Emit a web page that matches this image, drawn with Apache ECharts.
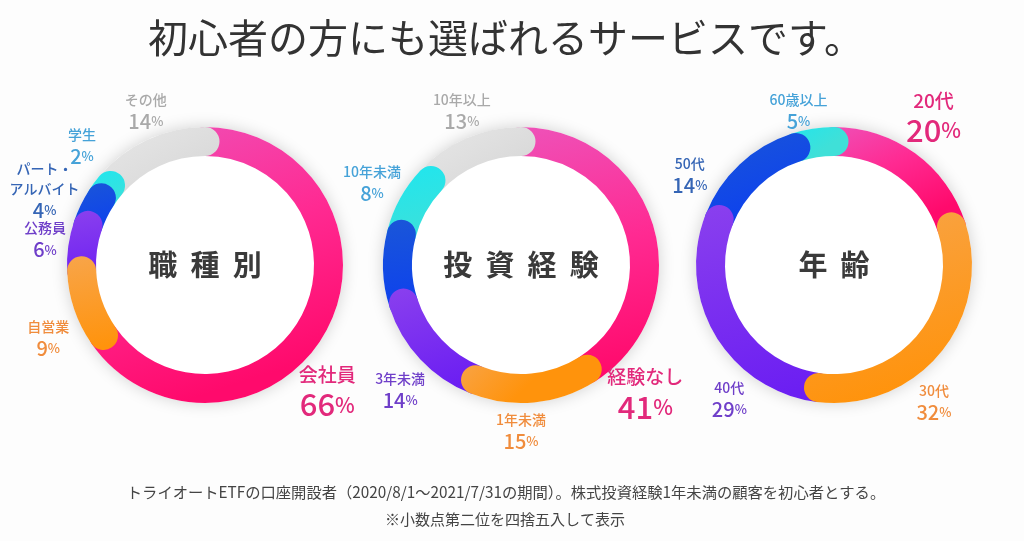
<!DOCTYPE html>
<html><head><meta charset="utf-8">
<script src="https://cdn.jsdelivr.net/npm/echarts@6/dist/echarts.min.js"></script>
<style>html,body{margin:0;padding:0;background:#fdfdfd}#c{width:1024px;height:541px}</style>
</head><body><div id="c"></div>
<script>
// ---- data ----
const pageTitle = '初心者の方にも選ばれるサービスです。';
const footnote1 = 'トライオートETFの口座開設者（2020/8/1～2021/7/31の期間）。株式投資経験1年未満の顧客を初心者とする。';
const footnote2 = '※小数点第二位を四捨五入して表示';
const chartTitles = ['職種別', '投資経験', '年齢'];
const jobNames = ['会社員', '自営業', '公務員', 'パート・\nアルバイト', '学生', 'その他'];
const jobValues = [66, 9, 6, 4, 2, 14];
const expNames = ['経験なし', '1年未満', '3年未満', '5年未満', '10年未満', '10年以上'];
const expValues = [41, 15, 14, 9, 8, 13];
const ageNames = ['20代', '30代', '40代', '50代', '60歳以上'];
const ageValues = [20, 32, 29, 14, 5];
const unlabeled = ['5年未満'];

// ---- style / layout ----
const FONT = '"Noto Sans CJK JP", "Noto Sans", sans-serif';
const G = (a, b) => new echarts.graphic.LinearGradient(0, 0, 0.35, 1, [{offset: 0, color: a}, {offset: 1, color: b}]);
const segColors = [
  () => new echarts.graphic.LinearGradient(0, 0, 0.35, 1, [{offset: 0, color: '#ee52b9'}, {offset: 0.5, color: '#ff2a92'}, {offset: 1, color: '#ff0a6c'}]),
  () => G('#f8a54a', '#ff930c'),
  () => G('#8a40ee', '#6c1ff2'),
  () => G('#1a56d8', '#0c3ff0'),
  () => G('#1fe6ef', '#3fe0d8'),
  () => G('#e8e8e8', '#dadada')
];
const labelColors = ['#e2297b', '#f08c3c', '#6f3fc9', '#3565b5', '#45a2d8', '#a9a9a9'];
const R0 = 109, R1 = 138;
// label placement (angle in degrees clockwise from 12 o'clock, radius in px); default: mid-angle at 170px
const donuts = [
  {names: jobNames, values: jobValues, title: chartTitles[0], center: [205, 265],
   labelPlace: {0: {a: 136, r: 176}, 1: {a: 245, r: 173}, 2: {a: 279, r: 162}, 3: {a: 295, r: 177}, 4: {a: 314, r: 171}, 5: {a: 339, r: 165}}},
  {names: expNames, values: expValues, title: chartTitles[1], center: [521, 265],
   labelPlace: {0: {a: 136, r: 179}, 1: {a: 180, r: 166}, 2: {a: 224, r: 174}, 5: {a: 339, r: 165}}},
  {names: ageNames, values: ageValues, title: chartTitles[2], center: [834, 265],
   labelPlace: {0: {a: 34, r: 178}, 1: {a: 144, r: 170}, 2: {a: 218, r: 170}, 3: {a: 302, r: 170}, 4: {a: 347, r: 158}}}
];

const chart = echarts.init(document.getElementById('c'));
const series = [];
const polar = [], angleAxis = [], radiusAxis = [];

donuts.forEach((d, k) => {
  const total = d.values.reduce((a, b) => a + b, 0);
  polar.push({center: d.center, radius: [R0, R1]});
  angleAxis.push({polarIndex: k, type: 'value', min: 0, max: total, startAngle: 90, clockwise: true, show: false});
  radiusAxis.push({polarIndex: k, type: 'category', data: ['r'], show: false});

  // white disc with soft shadow + center title
  series.push({
    type: 'pie', center: d.center, radius: [0, R1], silent: true, z: 1,
    itemStyle: {color: '#ffffff', shadowBlur: 16, shadowColor: 'rgba(0,0,0,0.18)'},
    label: {show: true, position: 'center', formatter: d.title.split('').join('  '),
      fontSize: 29, fontWeight: 'bold', color: '#3a3a3a', fontFamily: FONT},
    labelLine: {show: false}, emphasis: {disabled: true},
    data: [{value: 1, name: d.title}]
  });

  // ring segments
  const n = d.values.length;
  d.values.forEach((v, i) => {
    series.push({
      type: 'bar', coordinateSystem: 'polar', polarIndex: k, stack: 'ring' + k,
      roundCap: true, barWidth: '100%', name: d.names[i], data: [v], silent: true,
      z: i === 0 ? 3 : 3 + n - i,
      itemStyle: {color: segColors[i]()}
    });
  });

  // labels (transparent pie sharing the same data)
  const rich = {};
  labelColors.forEach((c, i) => {
    rich['n' + i] = {fontSize: 14, lineHeight: 20, color: c, fontFamily: FONT, fontWeight: 500, align: 'center'};
    rich['v' + i] = {fontSize: 20, lineHeight: 23, color: c, fontFamily: FONT, fontWeight: 500};
    rich['p' + i] = {fontSize: 13, lineHeight: 23, color: c, fontFamily: FONT, fontWeight: 500};
    rich['N' + i] = {fontSize: 19, lineHeight: 26, color: c, fontFamily: FONT, fontWeight: 500, align: 'center'};
    rich['V' + i] = {fontSize: 31, lineHeight: 33, color: c, fontFamily: FONT, fontWeight: 500};
    rich['P' + i] = {fontSize: 21, lineHeight: 33, color: c, fontFamily: FONT, fontWeight: 500};
  });
  const cum = [];
  d.values.reduce((a, v, i) => (cum[i] = a, a + v), 0);
  series.push({
    type: 'pie', center: d.center, radius: [R0, R1], startAngle: 90, clockwise: true,
    silent: true, z: 30, avoidLabelOverlap: false,
    itemStyle: {color: 'rgba(0,0,0,0)'}, labelLine: {show: false}, emphasis: {disabled: true},
    label: {
      show: true, position: 'outside', align: 'center',
      formatter: p => {
        if (unlabeled.indexOf(p.name) >= 0) return '';
        const i = p.dataIndex;
        const lead = i === 0;
        const a = lead ? 'N' : 'n', b = lead ? 'V' : 'v', c = lead ? 'P' : 'p';
        const lines = p.name.split('\n').map(s => '{' + a + i + '|' + s + '}');
        lines.push('{' + b + i + '|' + p.value + '}{' + c + i + '|%}');
        return lines.join('\n');
      },
      rich: rich
    },
    labelLayout: p => {
      const i = p.dataIndex;
      const o = d.labelPlace[i] || {};
      const ang = o.a !== undefined ? o.a : (cum[i] + d.values[i] / 2) / total * 360;
      const r = o.r !== undefined ? o.r : 170;
      const t = ang * Math.PI / 180;
      return {x: d.center[0] + r * Math.sin(t), y: d.center[1] - r * Math.cos(t), align: 'center', verticalAlign: 'middle'};
    },
    data: d.values.map((v, i) => ({value: v, name: d.names[i]}))
  });
});

chart.setOption({
  backgroundColor: '#fdfdfd',
  animation: false,
  polar, angleAxis, radiusAxis, series,
  graphic: [
    {type: 'text', x: 506, y: 38, style: {text: pageTitle, fontSize: 40, fontFamily: FONT, fill: '#333', align: 'center', verticalAlign: 'middle', textAlign: 'center', textVerticalAlign: 'middle'}},
    {type: 'text', x: 506, y: 492, style: {text: footnote1, fontSize: 15.3, fontFamily: FONT, fill: '#444', align: 'center', verticalAlign: 'middle', textAlign: 'center', textVerticalAlign: 'middle'}},
    {type: 'text', x: 505, y: 519, style: {text: footnote2, fontSize: 15, fontFamily: FONT, fill: '#444', align: 'center', verticalAlign: 'middle', textAlign: 'center', textVerticalAlign: 'middle'}}
  ]
});
</script></body></html>
